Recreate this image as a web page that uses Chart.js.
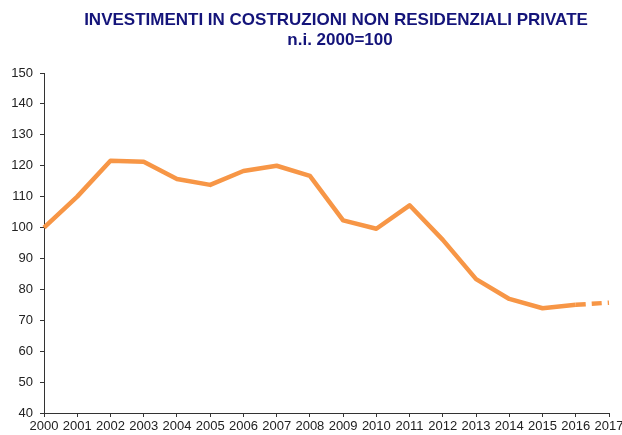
<!DOCTYPE html>
<html>
<head>
<meta charset="utf-8">
<style>
  html, body { margin: 0; padding: 0; background: #fff; }
  #wrap { width: 622px; height: 435px; }
</style>
<script src="https://cdn.jsdelivr.net/npm/chart.js@4.4.0/dist/chart.umd.min.js"></script>
</head>
<body>
<div id="wrap"><canvas id="chart" width="622" height="435"></canvas></div>
<script>
// Data
const years = ['2000', '2001', '2002', '2003', '2004', '2005', '2006', '2007', '2008',
    '2009', '2010', '2011', '2012', '2013', '2014', '2015', '2016', '2017'];
const investimenti = [100, 110, 121.6, 121.3, 115.7, 113.8, 118.3, 120.0, 116.7,
    102.3, 99.6, 107.2, 96.0, 83.3, 76.9, 73.9, 75.0, 75.7];
const titleLines = ['INVESTIMENTI IN COSTRUZIONI NON RESIDENZIALI PRIVATE', 'n.i. 2000=100'];

const axisColor = '#333';
const tickFont = { family: 'Liberation Sans, Arial, sans-serif', size: 13 };

// Title drawn by hand so it can sit where the original has it
const titlePlugin = {
    id: 'customTitle',
    afterDraw(chart) {
        const ctx = chart.ctx;
        ctx.save();
        ctx.fillStyle = '#14147a';
        ctx.font = 'bold 17px "Liberation Sans", Arial, sans-serif';
        ctx.textAlign = 'center';
        ctx.textBaseline = 'middle';
        ctx.fillText(titleLines[0], 336, 20);
        ctx.fillText(titleLines[1], 340, 40);
        ctx.restore();
    }
};

function initializeChart() {
    const ctx = document.getElementById('chart').getContext('2d');
    new Chart(ctx, {
        type: 'line',
        data: {
            labels: years,
            datasets: [{
                data: investimenti,
                borderColor: '#f79646',
                borderWidth: 4.5,
                pointRadius: 0,
                tension: 0,
                borderCapStyle: 'butt',
                borderJoinStyle: 'round',
                // last year is an estimate: dashed
                segment: {
                    borderDash: c => c.p1DataIndex === years.length - 1 ? [10, 6] : undefined
                }
            }]
        },
        options: {
            responsive: false,
            animation: false,
            layout: { padding: { top: 73, right: 13, left: 0, bottom: 0 } },
            plugins: {
                legend: { display: false },
                tooltip: { enabled: false },
                title: { display: false }
            },
            scales: {
                x: {
                    type: 'category',
                    offset: false,
                    grid: { drawOnChartArea: false, tickLength: 4, color: axisColor },
                    border: { color: axisColor, width: 1 },
                    ticks: { color: '#222', font: tickFont, maxRotation: 0, autoSkip: false, padding: 2 },
                    afterFit: s => { s.height = 22; s.paddingLeft = 0; s.paddingRight = 0; }
                },
                y: {
                    min: 40,
                    max: 150,
                    grid: { drawOnChartArea: false, tickLength: 4, color: axisColor },
                    border: { color: axisColor, width: 1 },
                    ticks: { stepSize: 10, color: '#222', font: tickFont, padding: 7 },
                    afterFit: s => { s.width = 44; s.paddingTop = 0; s.paddingBottom = 0; }
                }
            }
        },
        plugins: [titlePlugin]
    });
}

document.addEventListener('DOMContentLoaded', initializeChart);
</script>
</body>
</html>
